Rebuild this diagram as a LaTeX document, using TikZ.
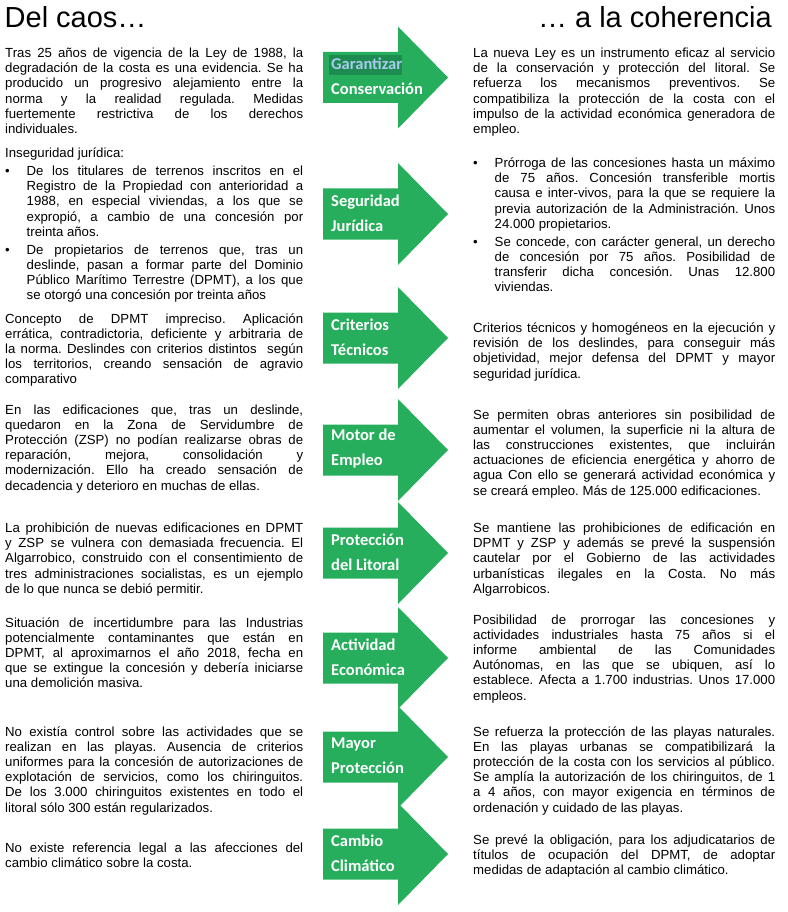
\documentclass[tikz,border=0pt]{standalone}
\usepackage{fontspec}
\setmainfont{Liberation Sans}
\newfontfamily\etiqueta{Carlito}
\definecolor{flechaverde}{RGB}{38,174,92}
\definecolor{marcaverde}{RGB}{30,140,80}
\definecolor{marcaazul}{RGB}{168,202,238}

\newcommand{\cuerpo}{\fontsize{13.2}{15.2}\selectfont}
\newcommand{\marcado}[1]{\textcolor{marcaazul}{#1}}
\newcommand{\bloque}[2][298pt]{%
  \begin{minipage}[t]{#1}%
    \spaceskip=.28em plus .8em minus .1em
    \frenchspacing\hyphenpenalty=10000 \tolerance=10000
    #2%
  \end{minipage}}
\newenvironment{vinetas}{%
  \begin{list}{\textbullet}{%
    \setlength{\leftmargin}{21.5pt}\setlength{\labelwidth}{16.5pt}%
    \setlength{\labelsep}{5pt}\setlength{\itemsep}{2.8pt}%
    \setlength{\topsep}{2.3pt}\setlength{\parsep}{0pt}%
    \setlength{\partopsep}{0pt}\def\makelabel##1{##1\hfil}}}%
  {\end{list}}

\begin{document}
\begin{tikzpicture}[x=1pt, y=-1pt,
    titulo/.style={inner sep=0pt, font=\fontsize{29}{33}\selectfont},
    texto/.style={anchor=base west, inner sep=0pt, font=\cuerpo},
    flecha/.style={fill=flechaverde, draw=none},
    rotulo/.style={anchor=west, align=left, inner sep=0pt, text=white,
        font=\etiqueta\bfseries\fontsize{16.5}{25}\selectfont}
]
\useasboundingbox (0,0) rectangle (787,912);

% TITLES
\node[titulo, anchor=base west] (caos) at (4.5,28) {Del caos…};
\node[titulo, anchor=base east] (coherencia) at (772,28) {… a la coherencia};

% GREEN ARROWS
\foreach \yc in {77.5,214,338,450,553,658,757,854}
    \fill[flecha] (323,\yc-25.5) -- (398,\yc-25.5) -- (398,\yc-51) -- (448,\yc)
        -- (398,\yc+51) -- (398,\yc+25.5) -- (323,\yc+25.5) -- cycle;

% selection mark behind the first word
\fill[marcaverde] (329,55) rectangle (402,75);

% ARROW LABELS
\foreach \yc/\primera/\segunda [count=\n] in {77.5/\marcado{Garantizar}/Conservación,
        214/Seguridad/Jurídica, 338/Criterios/Técnicos, 450/Motor de/Empleo,
        553/Protección/del Litoral, 658/Actividad/Económica,
        757/Mayor/Protección, 854/Cambio/Climático}
    \node[rotulo] (rotulo\n) at (331,\yc-1) {\primera\\\segunda};

% LEFT COLUMN: DEL CAOS
\node[texto] (caos1) at (5,57.5) {\bloque{Tras 25 años de vigencia de la Ley de 1988, la\linebreak
degradación de la costa es una evidencia. Se ha\linebreak
producido un progresivo alejamiento entre la\linebreak
norma y la realidad regulada. Medidas\linebreak
fuertemente restrictiva de los derechos\linebreak
individuales.}};

\node[texto] (caos2) at (5,158) {\bloque{Inseguridad jurídica:
\begin{vinetas}
\item De los titulares de terrenos inscritos en el\linebreak
Registro de la Propiedad con anterioridad a\linebreak
1988, en especial viviendas, a los que se\linebreak
expropió, a cambio de una concesión por\linebreak
treinta años.
\item De propietarios de terrenos que, tras un\linebreak
deslinde, pasan a formar parte del Dominio\linebreak
Público Marítimo Terrestre (DPMT), a los que\linebreak
se otorgó una concesión por treinta años
\end{vinetas}}};

\node[texto] (caos3) at (5,323) {\bloque{Concepto de DPMT impreciso. Aplicación\linebreak
errática, contradictoria, deficiente y arbitraria de\linebreak
la norma. Deslindes con criterios distintos\ \ según\linebreak
los territorios, creando sensación de agravio\linebreak
comparativo}};

\node[texto] (caos4) at (5,414) {\bloque{En las edificaciones que, tras un deslinde,\linebreak
quedaron en la Zona de Servidumbre de\linebreak
Protección (ZSP) no podían realizarse obras de\linebreak
reparación, mejora, consolidación y\linebreak
modernización. Ello ha creado sensación de\linebreak
decadencia y deterioro en muchas de ellas.}};

\node[texto] (caos5) at (5,532.5) {\bloque{La prohibición de nuevas edificaciones en DPMT\linebreak
y ZSP se vulnera con demasiada frecuencia. El\linebreak
Algarrobico, construido con el consentimiento de\linebreak
tres administraciones socialistas, es un ejemplo\linebreak
de lo que nunca se debió permitir.}};

\node[texto] (caos6) at (5,627) {\bloque{Situación de incertidumbre para las Industrias\linebreak
potencialmente contaminantes que están en\linebreak
DPMT, al aproximarnos el año 2018, fecha en\linebreak
que se extingue la concesión y debería iniciarse\linebreak
una demolición masiva.}};

\node[texto] (caos7) at (5,736) {\bloque{No existía control sobre las actividades que se\linebreak
realizan en las playas. Ausencia de criterios\linebreak
uniformes para la concesión de autorizaciones de\linebreak
explotación de servicios, como los chiringuitos.\linebreak
De los 3.000 chiringuitos existentes en todo el\linebreak
litoral sólo 300 están regularizados.}};

\node[texto] (caos8) at (5,852.5) {\bloque{No existe referencia legal a las afecciones del\linebreak
cambio climático sobre la costa.}};

% RIGHT COLUMN: A LA COHERENCIA
\node[texto] (ley1) at (473,57.5) {\bloque[302pt]{La nueva Ley es un instrumento eficaz al servicio\linebreak
de la conservación y protección del litoral. Se\linebreak
refuerza los mecanismos preventivos. Se\linebreak
compatibiliza la protección de la costa con el\linebreak
impulso de la actividad económica generadora de\linebreak
empleo.}};

\node[texto] (ley2) at (473,167.5) {\bloque[302pt]{%
\begin{vinetas}
\item Prórroga de las concesiones hasta un máximo\linebreak
de 75 años. Concesión transferible mortis\linebreak
causa e inter-vivos, para la que se requiere la\linebreak
previa autorización de la Administración. Unos\linebreak
24.000 propietarios.
\item Se concede, con carácter general, un derecho\linebreak
de concesión por 75 años. Posibilidad de\linebreak
transferir dicha concesión. Unas 12.800\linebreak
viviendas.
\end{vinetas}}};

\node[texto] (ley3) at (473,332.5) {\bloque[302pt]{Criterios técnicos y homogéneos en la ejecución y\linebreak
revisión de los deslindes, para conseguir más\linebreak
objetividad, mejor defensa del DPMT y mayor\linebreak
seguridad jurídica.}};

\node[texto] (ley4) at (473,419) {\bloque[302pt]{Se permiten obras anteriores sin posibilidad de\linebreak
aumentar el volumen, la superficie ni la altura de\linebreak
las construcciones existentes, que incluirán\linebreak
actuaciones de eficiencia energética y ahorro de\linebreak
agua Con ello se generará actividad económica y\linebreak
se creará empleo. Más de 125.000 edificaciones.}};

\node[texto] (ley5) at (473,532.5) {\bloque[302pt]{Se mantiene las prohibiciones de edificación en\linebreak
DPMT y ZSP y además se prevé la suspensión\linebreak
cautelar por el Gobierno de las actividades\linebreak
urbanísticas ilegales en la Costa. No más\linebreak
Algarrobicos.}};

\node[texto] (ley6) at (473,624) {\bloque[302pt]{Posibilidad de prorrogar las concesiones y\linebreak
actividades industriales hasta 75 años si el\linebreak
informe ambiental de las Comunidades\linebreak
Autónomas, en las que se ubiquen, así lo\linebreak
establece. Afecta a 1.700 industrias. Unos 17.000\linebreak
empleos.}};

\node[texto] (ley7) at (473,736) {\bloque[302pt]{Se refuerza la protección de las playas naturales.\linebreak
En las playas urbanas se compatibilizará la\linebreak
protección de la costa con los servicios al público.\linebreak
Se amplía la autorización de los chiringuitos, de 1\linebreak
a 4 años, con mayor exigencia en términos de\linebreak
ordenación y cuidado de las playas.}};

\node[texto] (ley8) at (473,844) {\bloque[302pt]{Se prevé la obligación, para los adjudicatarios de\linebreak
títulos de ocupación del DPMT, de adoptar\linebreak
medidas de adaptación al cambio climático.}};

\end{tikzpicture}
\end{document}
